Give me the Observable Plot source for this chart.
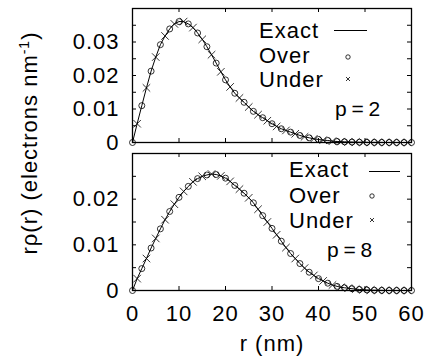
<!DOCTYPE html>
<html><head><meta charset="utf-8">
<script src="https://cdn.jsdelivr.net/npm/d3@7"></script>
<script src="https://cdn.jsdelivr.net/npm/@observablehq/plot@0.6"></script>
<style>
body{margin:0;background:#fff;}
#wrap{position:relative;width:424px;height:364px;overflow:hidden;font-family:"Liberation Sans",Arial,sans-serif;color:#000;}
.abs{position:absolute;white-space:nowrap;line-height:22px;}
.t{font-size:22px;letter-spacing:1px;}
.pl{position:absolute;left:0;}
</style></head><body><div id="wrap"></div>
<script>
// radial grid (nm)
const r = [0,1,2,3,4,5,6,7,8,9,10,11,12,13,14,15,16,17,18,19,20,21,22,23,24,25,26,27,28,29,30,31,32,33,34,35,36,37,38,39,40,41,42,43,44,
  44.8,45.6,46.4,47.2,48,48.8,49.6,50.4,51.2,52,52.8,53.6,54.4,55.2,56,56.8,57.6,58.4,59.2,60];
// p = 2 panel
const topVals = [0,.0056,.0110,.0163,.0213,.0255,.0292,.0318,.0339,.0354,.0361,.0361,.0354,.0343,.0327,.0308,.0286,.0262,.0237,.0211,
  .0187,.0166,.0147,.0133,.0120,.0106,.0093,.0083,.0074,.0065,.0056,.0048,.0041,.0036,.0031,.0026,.0021,.0017,.0014,.0011,
  .0009,.0007,.0006,.0004,.0003,
  .00025,.0002,.00016,.00013,.0001,.00008,.00006,.00005,.00004,.00003,.00002,.00002,.00001,.00001,.00001,0,0,0,0,0];
// p = 8 panel
const bottomVals = [0,.0026,.0048,.0070,.0093,.0114,.0135,.0155,.0173,.0189,.0204,.0217,.0228,.0238,.0245,.0250,.0253,.0255,.0254,.0251,
  .0246,.0239,.0230,.0222,.0213,.0203,.0192,.0178,.0164,.0150,.0136,.0122,.0108,.0094,.0081,.0070,.0059,.0049,.0040,.0033,
  .0026,.0021,.0016,.0012,.0009,
  .0007,.0006,.0005,.0004,.0003,.00022,.00016,.00012,.00009,.00006,.00004,.00003,.00002,.00001,.00001,0,0,0,0,0];
const xTicks = [0,10,20,30,40,50,60];
const topYTicks = [0,0.01,0.02,0.03];
const bottomYTicks = [0,0.01,0.02];
const topMinor = [0.005,0.01,0.015,0.02,0.025,0.03,0.035];
const bottomMinor = [0.005,0.01,0.015,0.02,0.025];
const xInner = [10,20,30,40,50];
const seriesNames = ["Exact","Over","Under"];
const panelLabels = ["p = 2","p = 8"];
const xLabel = "r (nm)";

const W = 424, ML = 132, MR = 13;
const font = '"Liberation Sans",Arial,sans-serif';

function panel({vals, yDomain, yTicks, minor, marginTop, marginBottom, height, showX}) {
  const data = r.map((x, i) => ({r: x, v: vals[i], kind: i % 2 === 0 ? seriesNames[1] : seriesNames[2]}));
  const fw = W - ML - MR, fh = height - marginTop - marginBottom, tl = 4;
  const marks = [
    Plot.line(data, {x: "r", y: "v", stroke: "black", strokeWidth: 1}),
    Plot.dot(data.filter(d => d.kind === seriesNames[1]), {x: "r", y: "v", r: 3, stroke: "black", strokeWidth: 0.8, fill: "none"}),
    Plot.dot(data.filter(d => d.kind === seriesNames[2]), {x: "r", y: "v", r: 3.5, symbol: "times", stroke: "black", strokeWidth: 0.8}),
    // inward ticks
    Plot.tickY(minor, {y: d => d, insetRight: fw - tl, stroke: "black", strokeWidth: 1}),
    Plot.tickY(minor, {y: d => d, insetLeft: fw - tl, stroke: "black", strokeWidth: 1}),
    Plot.tickX(xInner, {x: d => d, insetTop: fh - tl, stroke: "black", strokeWidth: 1}),
    Plot.tickX(xInner, {x: d => d, insetBottom: fh - tl, stroke: "black", strokeWidth: 1}),
    Plot.axisY({ticks: yTicks, tickSize: 0, tickPadding: 13, label: null, tickFormat: d => String(d)}),
    Plot.frame({stroke: "black", strokeWidth: 1.3})
  ];
  if (showX) marks.push(Plot.axisX({ticks: xTicks, tickSize: 0, tickPadding: 15, label: xLabel, labelAnchor: "center", labelArrow: "none", labelOffset: 60, tickFormat: d => String(d)}));
  else marks.push(Plot.axisX({ticks: [], label: null}));
  return Plot.plot({
    width: W, height, marginLeft: ML, marginRight: MR, marginTop, marginBottom,
    x: {domain: [0, 60]},
    y: {domain: yDomain},
    style: {fontFamily: font, fontSize: "22px", letterSpacing: "1px", color: "black", background: "transparent", overflow: "visible"},
    marks
  });
}

const wrap = document.getElementById("wrap");
const p1 = panel({vals: topVals, yDomain: [0, 0.04], yTicks: topYTicks, minor: topMinor, marginTop: 8, marginBottom: 8, height: 150, showX: false});
p1.classList.add("pl"); p1.style.top = "0px";
const p2 = panel({vals: bottomVals, yDomain: [0, 0.03], yTicks: bottomYTicks, minor: bottomMinor, marginTop: 8, marginBottom: 74, height: 219, showX: true});
p2.classList.add("pl"); p2.style.top = "145px";
wrap.appendChild(p1); wrap.appendChild(p2);

function addText(txt, left, baseline, cls, extra) {
  const d = document.createElement("div");
  d.className = "abs " + cls;
  d.textContent = txt;
  d.style.left = left + "px";
  d.style.top = (baseline - 18) + "px";
  if (extra) Object.assign(d.style, extra);
  wrap.appendChild(d);
  return d;
}
function addSym(kind, cx, cy, len) {
  const ns = "http://www.w3.org/2000/svg";
  const s = document.createElementNS(ns, "svg");
  s.setAttribute("width", 424); s.setAttribute("height", 364);
  s.style.position = "absolute"; s.style.left = "0"; s.style.top = "0"; s.style.overflow = "visible";
  let el;
  if (kind === "line") {
    el = document.createElementNS(ns, "line");
    el.setAttribute("x1", cx); el.setAttribute("x2", cx + len); el.setAttribute("y1", cy); el.setAttribute("y2", cy);
    el.setAttribute("stroke", "black"); el.setAttribute("stroke-width", 1);
  } else if (kind === "circle") {
    el = document.createElementNS(ns, "circle");
    el.setAttribute("cx", cx); el.setAttribute("cy", cy); el.setAttribute("r", 2.2);
    el.setAttribute("fill", "none"); el.setAttribute("stroke", "black"); el.setAttribute("stroke-width", 0.8);
  } else {
    el = document.createElementNS(ns, "path");
    const a = 2;
    el.setAttribute("d", `M${cx-a},${cy-a}L${cx+a},${cy+a}M${cx-a},${cy+a}L${cx+a},${cy-a}`);
    el.setAttribute("stroke", "black"); el.setAttribute("stroke-width", 0.8);
  }
  s.appendChild(el);
  wrap.appendChild(s);
}
// top legend
addText(seriesNames[0], 259, 38, "t"); addSym("line", 334, 30.5, 33);
addText(seriesNames[1], 259, 63, "t"); addSym("circle", 348, 57);
addText(seriesNames[2], 259, 87, "t"); addSym("times", 348, 79);
addText(panelLabels[0], 335, 116, "t", {fontSize: "21px", letterSpacing: "0px", wordSpacing: "-1px"});
// bottom legend
addText(seriesNames[0], 289, 177, "t"); addSym("line", 369, 171.5, 31);
addText(seriesNames[1], 289, 203, "t"); addSym("circle", 372, 196);
addText(seriesNames[2], 289, 228, "t"); addSym("times", 372, 220);
addText(panelLabels[1], 327, 257, "t", {fontSize: "21px", letterSpacing: "0px", wordSpacing: "-1px"});
// y label
const yl = document.createElement("div");
yl.className = "abs t";
yl.innerHTML = 'rρ(r) (electrons nm<sup style="font-size:14px;vertical-align:8px;line-height:0">-1</sup>)';
yl.style.left = "30px"; yl.style.top = "143px";
yl.style.transform = "translate(-50%,-50%) rotate(-90deg)";
wrap.appendChild(yl);
</script></body></html>
